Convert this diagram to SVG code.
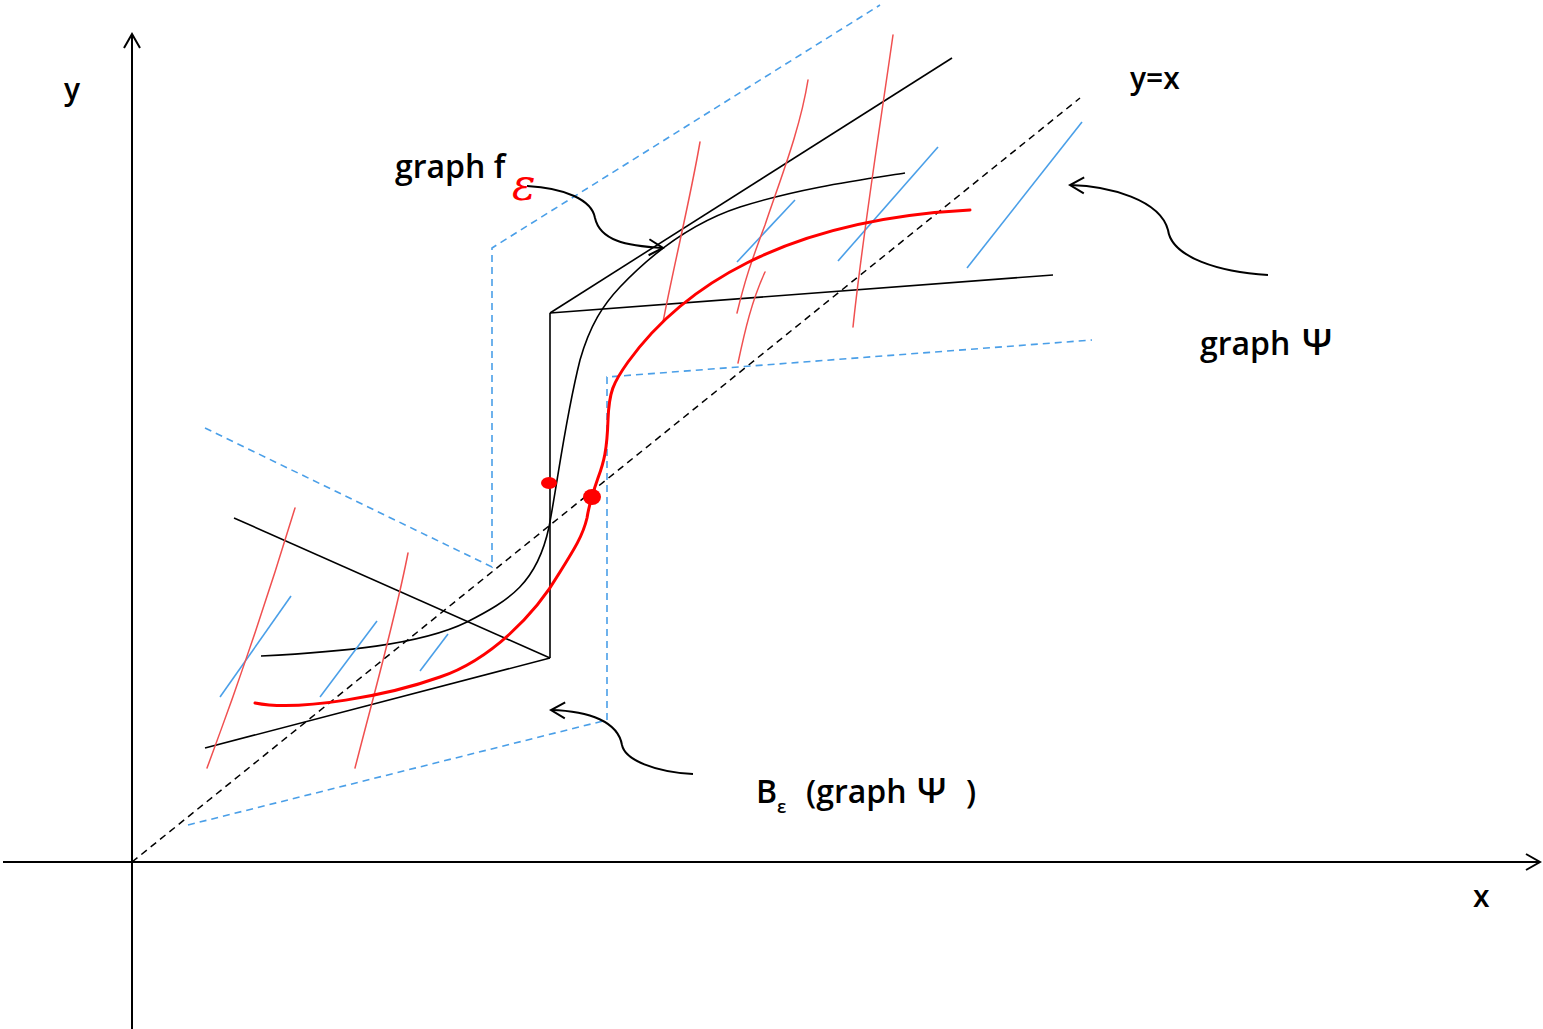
<svg xmlns="http://www.w3.org/2000/svg" width="1543" height="1029" viewBox="0 0 1543 1029">
<defs>
<style>
.ax{stroke:#000;stroke-width:2;fill:none}
.bk{stroke:#000;stroke-width:1.6;fill:none}
.dash{stroke:#000;stroke-width:1.5;fill:none;stroke-dasharray:7,5}
.bd{stroke:#4a9fe8;stroke-width:1.6;fill:none;stroke-dasharray:7,5}
.bl{stroke:#4a9fe8;stroke-width:1.6;fill:none}
.rt{stroke:#f05050;stroke-width:1.5;fill:none;stroke-linecap:round}
.rk{stroke:#f00;stroke-width:3;fill:none;stroke-linecap:round}
.ar{stroke:#000;stroke-width:2;fill:none}
.lb{font-family:"Open Sans","Liberation Sans",sans-serif;font-weight:600;fill:#000}
</style>
<marker id="open" viewBox="0 0 20 20" refX="18" refY="10" markerWidth="20" markerHeight="20" markerUnits="userSpaceOnUse" orient="auto">
<path d="M4,2 L18,10 L4,18" fill="none" stroke="#000" stroke-width="2"/>
</marker>
</defs>
<rect width="1543" height="1029" fill="#fff"/>
<g id="axes">
<line class="ax" x1="132" y1="1029" x2="132" y2="34" marker-end="url(#open)"/>
<line class="ax" x1="3" y1="862" x2="1540" y2="862" marker-end="url(#open)"/>
</g>
<g id="diagonal">
<line class="dash" x1="132" y1="862" x2="1080" y2="98"/>
</g>
<g id="graph-psi">
<line class="bk" x1="550" y1="313" x2="550" y2="658"/>
<line class="bk" x1="550" y1="313" x2="952" y2="58"/>
<line class="bk" x1="550" y1="313" x2="1053" y2="275"/>
<line class="bk" x1="550" y1="658" x2="234" y2="518"/>
<line class="bk" x1="550" y1="658" x2="205" y2="748"/>
</g>
<g id="neighbourhood">
<polyline class="bd" points="205,428 492,567 492,248 880,5"/>
<polyline class="bd" points="188,825 607,720 607,377 1092,340"/>
</g>
<g id="graph-f-black">
<path class="bk" d="M261,656 C340,652 420,645 467,622 C510,600 537,583 549,527 C558,480 565,420 580,360 C590,325 603,305 620,287 C660,245 700,220 740,207 C800,188 860,180 905,173"/>
</g>
<g id="hatch-blue">
<line class="bl" x1="220" y1="697" x2="291" y2="596"/>
<line class="bl" x1="320" y1="697" x2="377" y2="621"/>
<line class="bl" x1="420" y1="671" x2="448" y2="634"/>
<line class="bl" x1="737" y1="262" x2="795" y2="200"/>
<line class="bl" x1="838" y1="261" x2="938" y2="147"/>
<line class="bl" x1="967" y1="268" x2="1082" y2="122"/>
</g>
<g id="hatch-red">
<path class="rt" d="M207,768 C240,680 270,590 295,508"/>
<path class="rt" d="M355,768 C375,690 395,620 408,553"/>
<path class="rt" d="M663,322 C675,260 690,200 700,142"/>
<path class="rt" d="M737,313 C745,280 750,265 765,225 C780,180 800,130 808,80"/>
<path class="rt" d="M738,363 C745,330 752,300 765,272"/>
<path class="rt" d="M853,327 C862,240 878,140 893,35"/>
</g>
<g id="graph-f-eps">
<path class="rk" d="M255,703 C300,712 390,695 440,677 C490,660 535,615 560,572 C575,548 583,535 587,518 C589,505 592,495 598,478 C604,462 607,450 608,420 C609,392 613,383 628,362 C680,290 780,220 970,210"/>
<ellipse cx="549" cy="483" rx="8" ry="6" fill="#f00"/>
<ellipse cx="592" cy="497" rx="9" ry="8" fill="#f00"/>
</g>
<g id="connectors">
<path class="ar" d="M527,186 C565,188 592,200 595,218 C600,240 625,246 663,248" marker-end="url(#open)"/>
<path class="ar" d="M1268,275 C1220,272 1172,258 1168,230 C1160,200 1110,186 1070,185" marker-end="url(#open)"/>
<path class="ar" d="M693,774 C655,772 625,760 622,745 C618,722 590,711 551,710" marker-end="url(#open)"/>
</g>
<g id="labels">
<text class="lb" x="64" y="100" font-size="30">y</text>
<text class="lb" x="1473" y="907" font-size="30">x</text>
<text class="lb" x="1130" y="89" font-size="30">y=x</text>
<text class="lb" x="395" y="178" font-size="32">graph f</text>
<text x="512" y="200" font-size="44" font-style="italic" fill="#f00" font-family="'DejaVu Serif',serif">ε</text>
<text class="lb" x="1200" y="355" font-size="32">graph <tspan x="1302" font-size="36">Ψ</tspan></text>
<text class="lb" x="756" y="803" font-size="32">B<tspan font-size="18" dy="10">ε</tspan><tspan x="806" dy="-10">(graph</tspan><tspan x="917" font-size="35">Ψ</tspan><tspan x="966">)</tspan></text>
</g>
</svg>
